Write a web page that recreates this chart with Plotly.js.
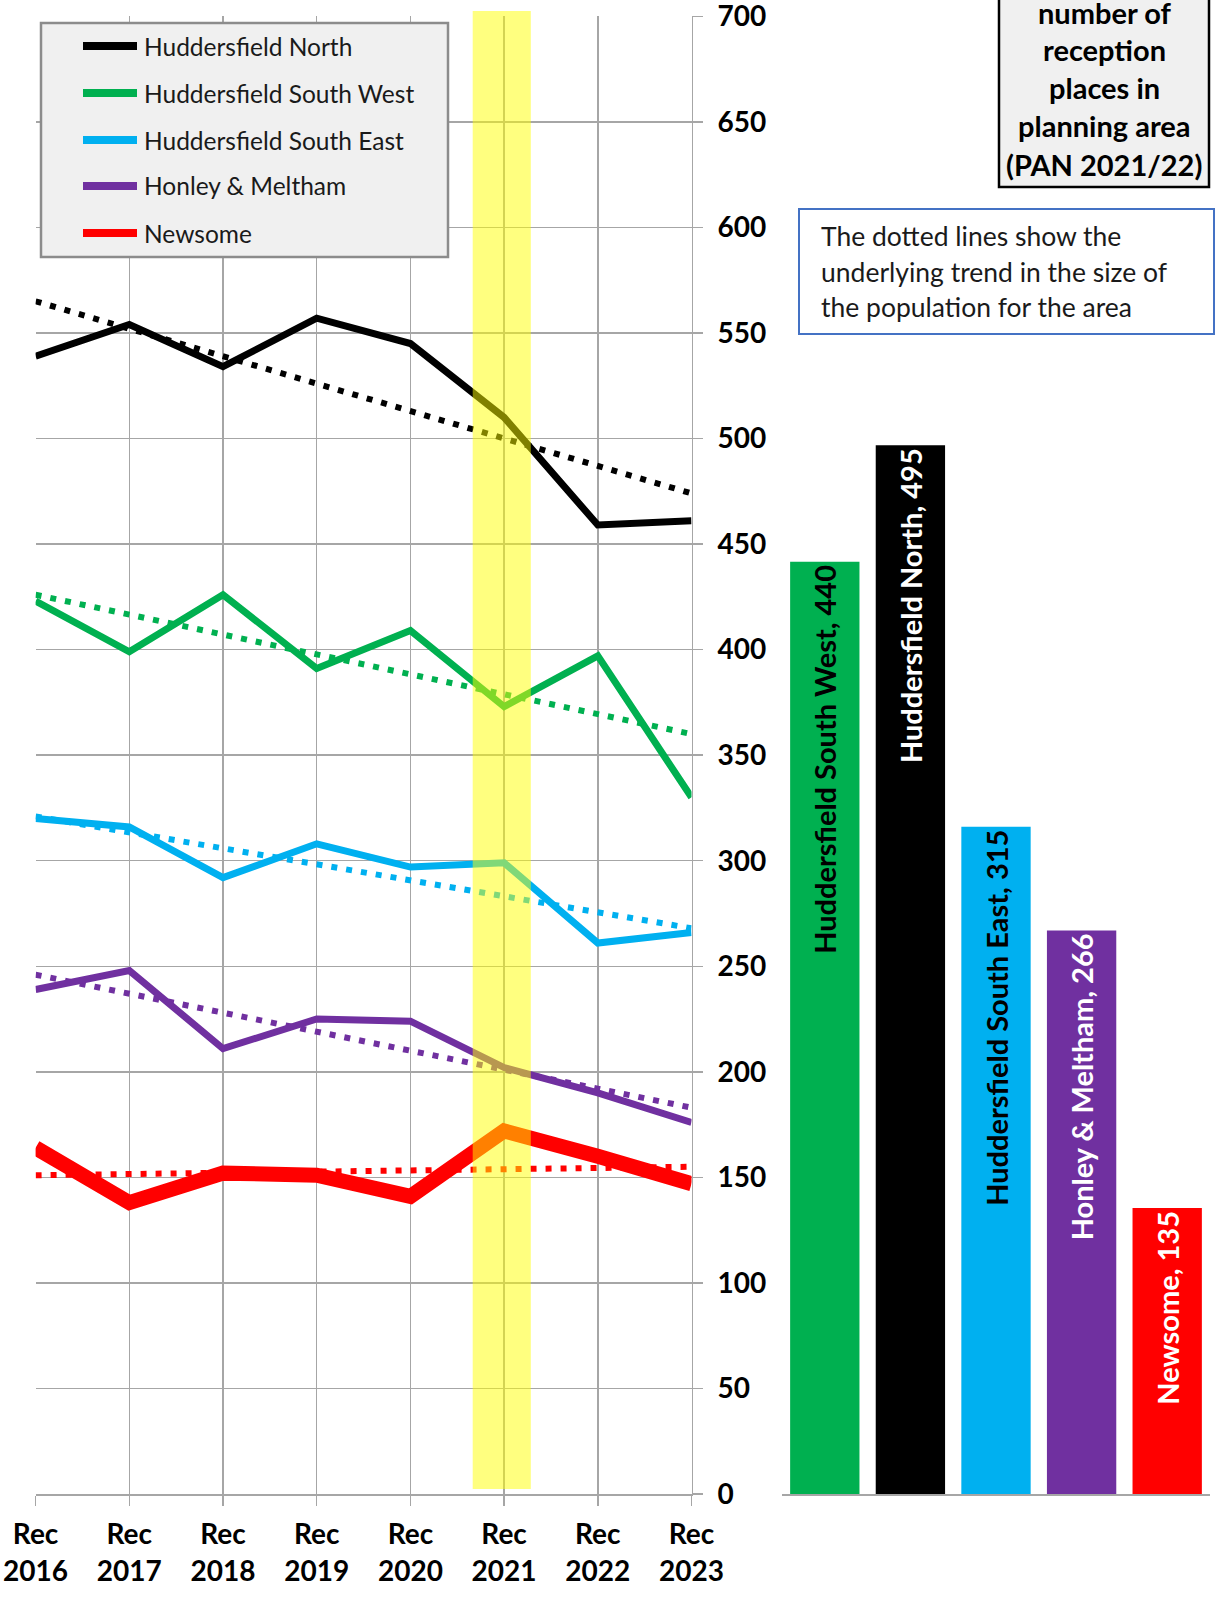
<!DOCTYPE html>
<html>
<head>
<meta charset="utf-8">
<script src="https://cdn.plot.ly/plotly-3.0.1.min.js"></script>
<style>html,body{margin:0;padding:0;background:#fff;}#chart{width:1216px;height:1597px;}</style>
</head>
<body>
<div id="chart"></div>
<script>
// ---- data ----
const years = ['Rec<br>2016','Rec<br>2017','Rec<br>2018','Rec<br>2019','Rec<br>2020','Rec<br>2021','Rec<br>2022','Rec<br>2023'];
const areas = ['Huddersfield North','Huddersfield South West','Huddersfield South East','Honley & Meltham','Newsome'];
const hudNorth      = [539,554,534,557,545,510,459,461];
const hudSouthWest  = [423,399,426,391,409,373,397,330];
const hudSouthEast  = [320,316,292,308,297,299,261,266];
const honleyMeltham = [239,248,211,225,224,202,190,176];
const newsome       = [164,138,152,151,141,172,160,147];
const trendStart = [565,426,321,246,151];
const trendEnd   = [474,360,268,183,155];
const barAreas  = ['Huddersfield South West','Huddersfield North','Huddersfield South East','Honley & Meltham','Newsome'];
const barPlaces = [440,495,315,266,135];
const yTicks = [0,50,100,150,200,250,300,350,400,450,500,550,600,650,700];
const boxLines = ['number of','reception','places in','planning area','(PAN 2021/22)'];
const noteLines = ['The dotted lines show the','underlying trend in the size of','the population for the area'];

// ---- styles ----
const W = 1216, H = 1597;
const px = x => x / W;
const py = y => 1 - y / H;
const FONT = 'Lato, "Open Sans", sans-serif';
const areaColors = ['#000000','#00b050','#00b0f0','#7030a0','#ff0000'];
const barColors = ['#00b050','#000000','#00b0f0','#7030a0','#ff0000'];
const barTextColors = ['#000000','#ffffff','#000000','#ffffff','#ffffff'];
const lineWidths = [7,7,7,7,15];
const series = [hudNorth, hudSouthWest, hudSouthEast, honleyMeltham, newsome];
const GRID = '#a6a6a6';

const traces = [];
// trend (dotted) lines first
series.forEach((s, i) => {
  traces.push({
    x: [years[0], years[years.length-1]],
    y: [trendStart[i], trendEnd[i]],
    type: 'scatter', mode: 'lines', xaxis: 'x', yaxis: 'y',
    line: {color: areaColors[i], width: 6, dash: '6px,9px'},
    showlegend: false, hoverinfo: 'skip'
  });
});
// solid lines
series.forEach((s, i) => {
  traces.push({
    x: years, y: s, name: areas[i],
    type: 'scatter', mode: 'lines', xaxis: 'x', yaxis: 'y',
    line: {color: areaColors[i], width: lineWidths[i]},
    showlegend: false
  });
});
// bars
traces.push({
  x: barAreas, y: barPlaces, type: 'bar', xaxis: 'x2', yaxis: 'y2',
  marker: {color: barColors, line: {width: 0}},
  text: barAreas.map((a, i) => a + ', ' + barPlaces[i]),
  textposition: 'inside', insidetextanchor: 'end', textangle: -90,
  textfont: {family: FONT, size: 29, weight: 700, color: barTextColors},
  constraintext: 'none', showlegend: false, hoverinfo: 'x+y'
});

const shapes = [];
const annotations = [];
// yellow highlight band (Rec 2021)
shapes.push({type: 'rect', xref: 'x', yref: 'paper', x0: 4.665, x1: 5.285, y0: py(1489), y1: py(11),
  fillcolor: '#ffff00', opacity: 0.5, line: {width: 0}, layer: 'above'});
// legend box
shapes.push({type: 'rect', xref: 'paper', yref: 'paper', x0: px(41), x1: px(448), y0: py(257), y1: py(23),
  fillcolor: '#f0f0f0', line: {color: '#8c8c8c', width: 2.5}, layer: 'above'});
const legY = [46, 93, 140, 186, 233];
areas.forEach((a, i) => {
  shapes.push({type: 'line', xref: 'paper', yref: 'paper', x0: px(83), x1: px(137), y0: py(legY[i]), y1: py(legY[i]),
    line: {color: areaColors[i], width: 8}, layer: 'above'});
  annotations.push({xref: 'paper', yref: 'paper', x: px(142), y: py(legY[i]), xanchor: 'left', yanchor: 'middle',
    text: a, showarrow: false, font: {family: FONT, size: 24.5, color: '#1a1a1a'}});
});
// black-bordered box
shapes.push({type: 'rect', xref: 'paper', yref: 'paper', x0: px(999), x1: px(1209), y0: py(187), y1: py(-40),
  fillcolor: '#f0f0f0', line: {color: '#000000', width: 2.5}, layer: 'above'});
const boxY = [12, 49, 88, 126, 164];
boxLines.forEach((t, i) => {
  annotations.push({xref: 'paper', yref: 'paper', x: px(1104), y: py(boxY[i]), xanchor: 'center', yanchor: 'middle',
    text: t, showarrow: false, font: {family: FONT, size: 29, weight: 700, color: '#000000'}});
});
// blue-bordered note
shapes.push({type: 'rect', xref: 'paper', yref: 'paper', x0: px(799), x1: px(1214), y0: py(334), y1: py(209),
  fillcolor: '#ffffff', line: {color: '#4472c4', width: 2}, layer: 'above'});
const noteY = [236, 272, 307];
noteLines.forEach((t, i) => {
  annotations.push({xref: 'paper', yref: 'paper', x: px(819), y: py(noteY[i]), xanchor: 'left', yanchor: 'middle',
    text: t, showarrow: false, font: {family: FONT, size: 26.5, color: '#1a1a1a'}});
});

const layout = {
  width: W, height: H,
  margin: {l: 0, r: 0, t: 0, b: 0},
  paper_bgcolor: '#ffffff', plot_bgcolor: 'rgba(0,0,0,0)',
  showlegend: false,
  font: {family: FONT, color: '#000000'},
  xaxis: {
    domain: [px(35.6), px(691.5)], anchor: 'y', type: 'category', range: [0, 7],
    categoryorder: 'array', categoryarray: years,
    showgrid: true, gridcolor: GRID, gridwidth: 1.5,
    showline: true, linecolor: GRID, linewidth: 1.5,
    ticks: 'outside', ticklen: 10, tickcolor: GRID, tickwidth: 1.5,
    tickfont: {family: FONT, size: 28, weight: 700, color: '#000000'},
    ticklabelstandoff: 5, ticklabeloverflow: 'allow',
    zeroline: false, fixedrange: true
  },
  yaxis: {
    domain: [py(1494), py(16.3)], anchor: 'x', side: 'right', range: [0, 700],
    tickvals: yTicks, ticktext: yTicks.map(String),
    showgrid: true, gridcolor: GRID, gridwidth: 1.5,
    showline: true, linecolor: GRID, linewidth: 1.5,
    ticks: 'outside', ticklen: 10, tickcolor: GRID, tickwidth: 1.5,
    ticklabelstandoff: 9, ticklabeloverflow: 'allow',
    tickfont: {family: FONT, size: 28, weight: 700, color: '#000000'},
    zeroline: false, fixedrange: true
  },
  xaxis2: {
    domain: [px(782), px(1210)], anchor: 'y2', type: 'category', range: [-0.5, 4.5],
    categoryorder: 'array', categoryarray: barAreas,
    showgrid: false, showline: true, linecolor: GRID, linewidth: 1.5,
    showticklabels: false, ticks: '', zeroline: false, fixedrange: true
  },
  yaxis2: {
    domain: [py(1494), py(16.3)], anchor: 'x2', range: [0, 697.5],
    visible: false, showgrid: false, zeroline: false, fixedrange: true
  },
  bargap: 0.19,
  shapes: shapes,
  annotations: annotations
};

Plotly.newPlot('chart', traces, layout, {displayModeBar: false, staticPlot: true});
</script>
</body>
</html>
